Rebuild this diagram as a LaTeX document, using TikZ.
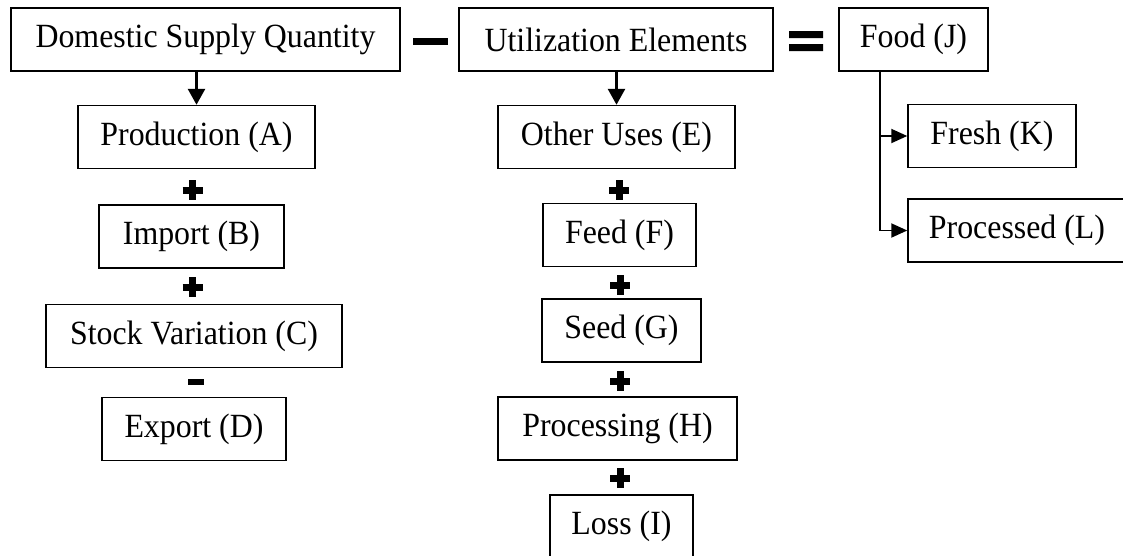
\documentclass[tikz,border=0pt]{standalone}
\usepackage{fontspec}
\setmainfont{Liberation Serif}[FakeStretch=0.94]
\usepackage{tikz}
\usetikzlibrary{arrows.meta,positioning,calc}

\begin{document}
\begin{tikzpicture}[x=0.02cm, y=-0.02cm,
  every node/.style={font=\fontsize{19.3}{21}\selectfont},
  bx/.style={draw,line width=0.85pt,minimum height=1.26cm,inner sep=0pt},
  arr/.style={line width=1.6pt,-{Triangle[width=0.34cm,length=0.32cm]}},
  brarr/.style={line width=1.1pt,-{Triangle[width=0.28cm,length=0.32cm]}},
  opplus/.pic={\draw[line width=0.14cm] (-10,0)--(10,0) (0,-10)--(0,10);},
  opminus/.pic={\draw[line width=0.13cm] (-8,0)--(8,0);}]
  \useasboundingbox (0,0) rectangle (1123,555);
  \clip (0,0) rectangle (1123,555);

  % top row
  \node[bx,minimum width=7.78cm] (dsq) at (205.5,39.5) {Domestic Supply Quantity};
  \node[bx,minimum width=6.28cm] (ue) at (616,39.5) {Utilization Elements};
  \node[bx,minimum width=2.98cm] (food) at (913.5,39.5) {Food (J)};
  \fill (413,38) rectangle (448,45);
  \fill (789,31) rectangle (823,38) (789,44) rectangle (823,51);

  % supply side
  \node[bx,minimum width=4.74cm] (prod) at (196.5,137) {Production (A)};
  \node[bx,minimum width=3.70cm] (imp) at (191.5,236.5) {Import (B)};
  \node[bx,minimum width=5.92cm] (stock) at (194,336) {Stock Variation (C)};
  \node[bx,minimum width=3.68cm] (exp) at (194,429) {Export (D)};
  \draw[arr] (dsq.south -| prod.north) -- (prod.north);
  \pic at (192.5,190) {opplus};
  \pic at (192.5,287) {opplus};
  \pic at (196,382) {opminus};

  % utilization side
  \node[bx,minimum width=4.74cm] (oth) at (616.5,137) {Other Uses (E)};
  \node[bx,minimum width=3.06cm] (feed) at (619.5,235) {Feed (F)};
  \node[bx,minimum width=3.18cm] (seed) at (621.5,330.5) {Seed (G)};
  \node[bx,minimum width=4.78cm] (proc) at (617.5,428.5) {Processing (H)};
  \node[bx,minimum width=2.86cm] (loss) at (621.5,526.5) {Loss (I)};
  \draw[arr] (ue.south -| oth.north) -- (oth.north);
  \pic at (619,190) {opplus};
  \pic at (620,285) {opplus};
  \pic at (620,381) {opplus};
  \pic at (620,478) {opplus};

  % food split
  \node[bx,minimum width=3.36cm] (fresh) at (992,136) {Fresh (K)};
  \node[bx,minimum width=4.36cm] (procd) at (1017,230.5) {Processed (L)};
  \draw[brarr] ([xshift=-0.67cm]food.south) |- (fresh.west);
  \draw[brarr] ([xshift=-0.67cm]food.south) |- (procd.west);
\end{tikzpicture}
\end{document}
